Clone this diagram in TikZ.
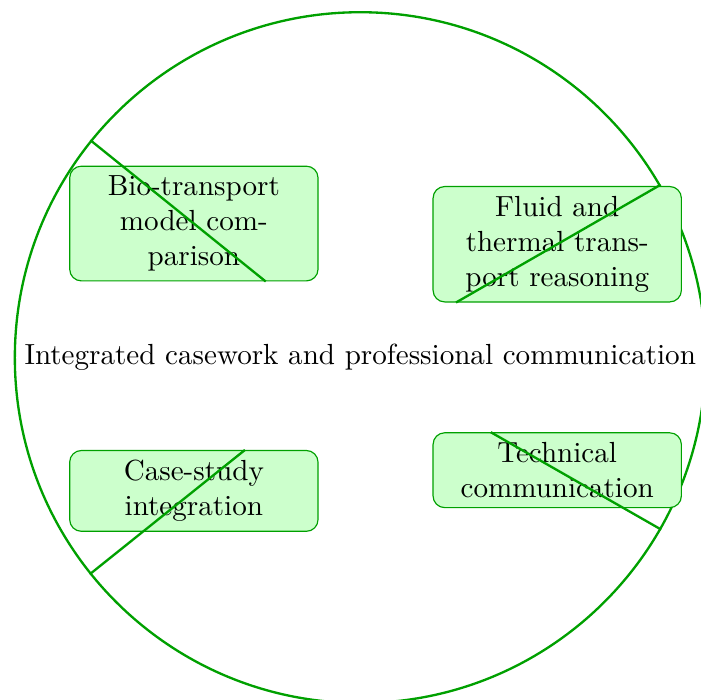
\documentclass[tikz,border=0pt]{standalone}
\usepackage{tikz}
\usetikzlibrary{shapes,positioning,calc}

\begin{document}
\begin{tikzpicture}

% Define colors
\definecolor{linecolor}{RGB}{0,160,0}
\definecolor{boxcolor}{RGB}{204,255,204}

\tikzset{
    hub/.style={circle, draw=linecolor, thick},
    topic/.style={rectangle, rounded corners, draw=linecolor, fill=boxcolor,
        text width=2.6cm, minimum width=3cm, align=center},
    link/.style={draw=linecolor, thick}
}

% Central circle
\node[hub] (main) at (0,0) {Integrated casework and professional communication};

% Topic boxes
\node[topic] (bio) at (-2.01, 1.62) {Bio-transport model comparison};
\node[topic] (fluid) at (2.38, 1.37) {Fluid and\\thermal trans-\\port reasoning};
\node[topic] (casestudy) at (-2.01, -1.61) {Case-study integration};
\node[topic] (techcomm) at (2.38, -1.36) {Technical communication};

% Connectors
\foreach \t in {bio, fluid, casestudy, techcomm} {
    \draw[link] (main) -- (\t);
}

% Frame
\pgfresetboundingbox
\useasboundingbox ($(main.west |- main.north)+(-4.7pt,3.8pt)$) rectangle ($(main.east |- main.south)+(-2pt,1.6pt)$);

\end{tikzpicture}
\end{document}
